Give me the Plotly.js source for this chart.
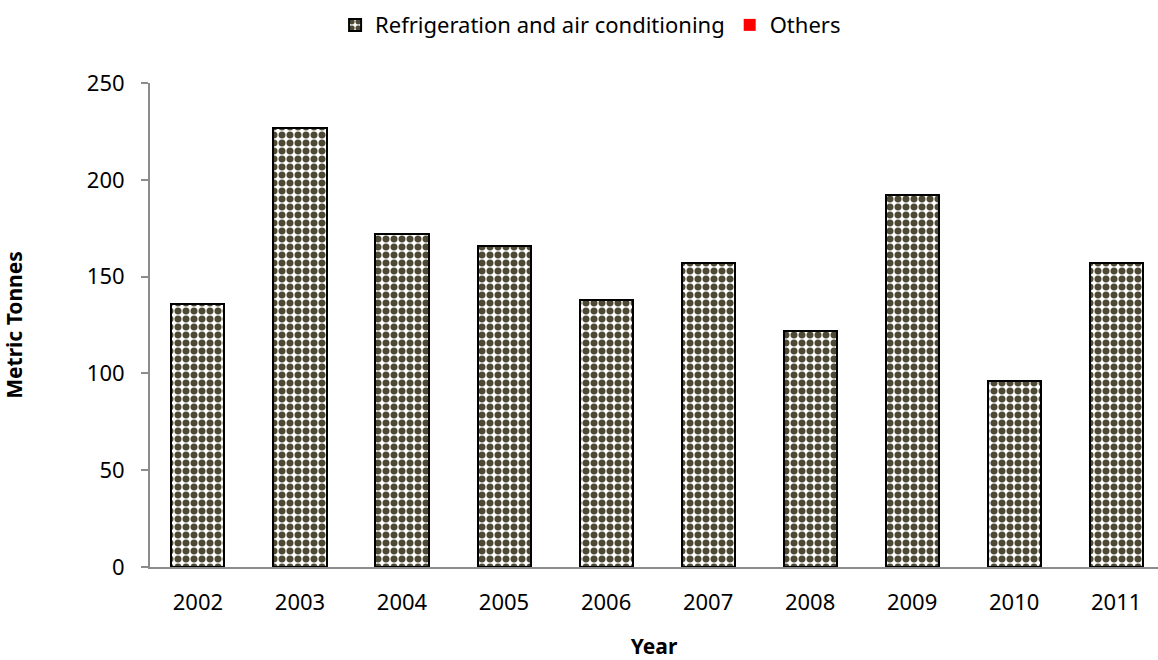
<!DOCTYPE html>
<html>
<head>
<meta charset="utf-8">
<script src="https://cdn.plot.ly/plotly-3.0.1.min.js"></script>
<style>html,body{margin:0;padding:0;background:#fff;}#chart{width:1158px;height:660px;}</style>
</head>
<body>
<div id="chart"></div>
<script>
const years = [2002, 2003, 2004, 2005, 2006, 2007, 2008, 2009, 2010, 2011];
const refrigeration = [136, 227, 172, 166, 138, 157, 122, 192, 96, 157];
const others = [0, 0, 0, 0, 0, 0, 0, 0, 0, 0];
const yTicks = [0, 50, 100, 150, 200, 250];

const FONT = "Noto Sans, Open Sans, sans-serif";

const data = [
  {
    type: 'bar', name: 'Refrigeration and air conditioning', x: years, y: refrigeration,
    width: 0.52,
    marker: {
      color: '#ffffff',
      line: {color: '#000000', width: 2},
      pattern: {shape: '.', fgcolor: '#4d4934', bgcolor: '#ffffff', size: 8, solidity: 0.6, fillmode: 'replace'}
    }
  },
  {
    type: 'bar', name: 'Others', x: years, y: others,
    width: 0.52,
    marker: {color: '#ff0000'}
  }
];

const layout = {
  width: 1158, height: 660,
  margin: {l: 150, r: 0, t: 83, b: 93, autoexpand: false},
  paper_bgcolor: '#ffffff', plot_bgcolor: '#ffffff',
  barmode: 'stack',
  font: {family: FONT, size: 22, color: '#000'},
  showlegend: true,
  legend: {
    orientation: 'h', x: 0.51, xref: 'container', xanchor: 'center', y: 0.962, yref: 'container', yanchor: 'middle',
    font: {family: FONT, size: 22, color: '#000'}, traceorder: 'normal'
  },
  xaxis: {
    range: [2001.53, 2011.41],
    tickvals: years, ticktext: years.map(String),
    showgrid: false, zeroline: false,
    showline: true, linecolor: '#8c8c8c', linewidth: 2,
    ticks: '', ticklabelstandoff: 15,
    tickfont: {family: FONT, size: 22},
    title: {text: '<b>Year</b>', font: {family: FONT, size: 21}, standoff: 30}
  },
  yaxis: {
    range: [0, 250], tickvals: yTicks,
    showgrid: false, zeroline: false,
    showline: true, linecolor: '#8c8c8c', linewidth: 2,
    ticks: 'outside', ticklen: 7, tickcolor: '#8c8c8c', tickwidth: 2,
    ticklabelstandoff: 12,
    tickfont: {family: FONT, size: 22},
    title: {text: '<b>Metric Tonnes</b>', font: {family: FONT, size: 21}, standoff: 65}
  }
};

Plotly.newPlot('chart', data, layout, {displayModeBar: false, staticPlot: true});
</script>
</body>
</html>
